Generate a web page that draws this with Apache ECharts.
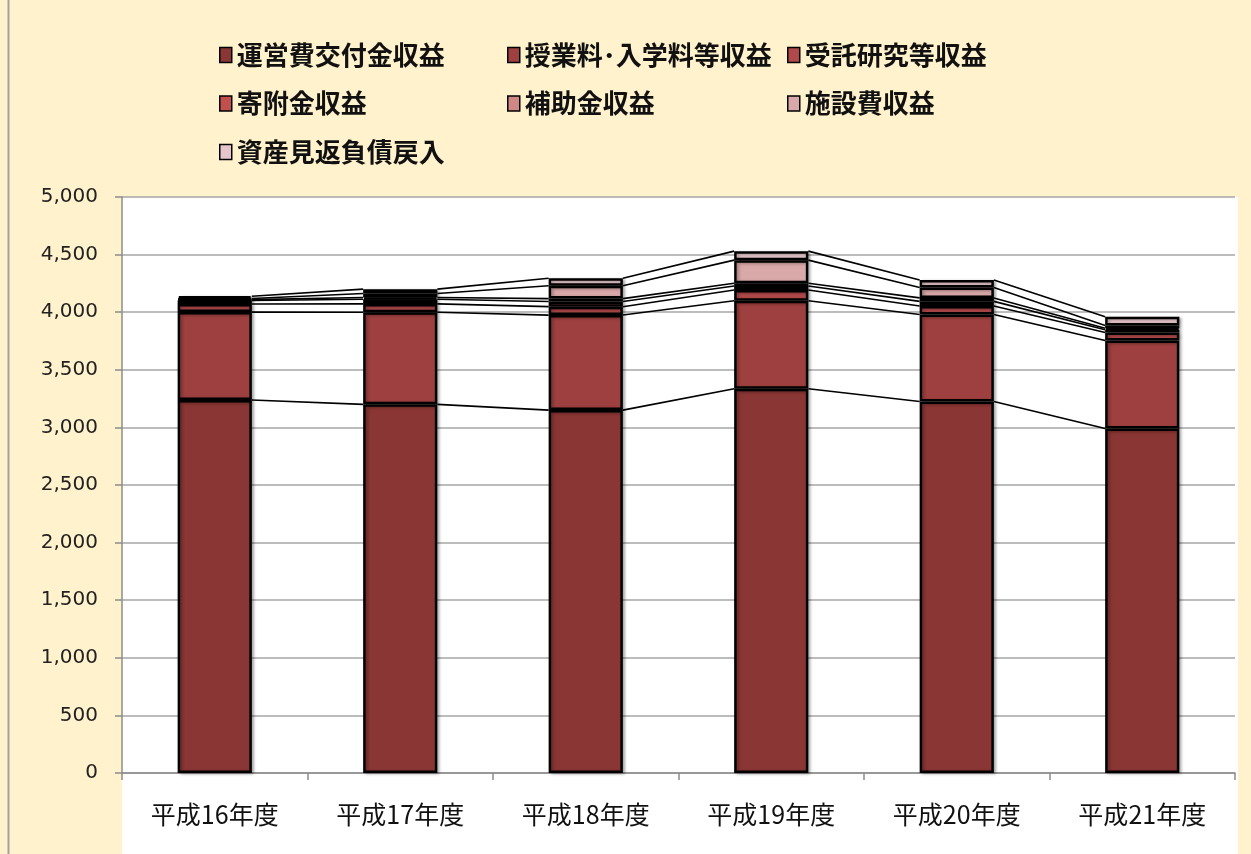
<!DOCTYPE html>
<html>
<head>
<meta charset="utf-8">
<script src="https://cdn.jsdelivr.net/npm/echarts@6/dist/echarts.min.js"></script>
<style>
  html, body { margin: 0; padding: 0; background: #FFF2CC; }
  #chart { width: 1251px; height: 854px; }
</style>
</head>
<body>
<div id="chart"></div>
<script>
// 年度
const categories = ['平成16年度', '平成17年度', '平成18年度', '平成19年度', '平成20年度', '平成21年度'];

// 収益の内訳（百万円）
const seriesNames = ['運営費交付金収益', '授業料･入学料等収益', '受託研究等収益', '寄附金収益', '補助金収益', '施設費収益', '資産見返負債戻入'];
const uneihi   = [3238, 3200, 3150, 3335, 3225, 2990];
const jugyoryo = [763, 800, 825, 765, 755, 764];
const jutaku   = [70, 72, 73, 92, 74, 69];
const kifukin  = [30, 40, 45, 35, 40, 25];
const hojokin  = [8, 15, 25, 25, 30, 12];
const shisetsu = [10, 35, 112, 200, 90, 25];
const shisan   = [20, 38, 65, 78, 66, 75];

const yTicks = { min: 0, max: 5000, interval: 500 };

const colors = ['#8A3634', '#9E403F', '#B0494A', '#C0504D', '#CF8886', '#D9A8A8', '#E6C6CA'];
const values = [uneihi, jugyoryo, jutaku, kifukin, hojokin, shisetsu, shisan];

// 各層の上端（累積値）から系列線のデータを作る
const cumulative = [];
values.reduce((acc, arr) => {
  const next = acc.map((v, i) => v + arr[i]);
  cumulative.push(next);
  return next;
}, categories.map(() => 0));

const seriesLineData = [];
for (let i = 0; i < categories.length - 1; i++) {
  cumulative.forEach(cum => seriesLineData.push([i, cum[i], cum[i + 1]]));
}

const barSeries = seriesNames.map((name, k) => ({
  name,
  type: 'bar',
  stack: 'total',
  barWidth: '40%',
  data: values[k],
  itemStyle: {
    color: colors[k],
    borderColor: '#000',
    borderWidth: 2.5,
    shadowColor: 'rgba(0,0,0,0.30)',
    shadowBlur: 3,
    shadowOffsetX: 2,
    shadowOffsetY: 1
  },
  emphasis: { disabled: true }
}));

const legendText = {
  fontFamily: 'Noto Sans CJK JP',
  fontSize: 26,
  fontWeight: 'bold',
  color: '#111',
  lineHeight: 26,
  textShadowColor: 'rgba(90,70,30,0.35)',
  textShadowOffsetX: 1,
  textShadowOffsetY: 1
};

function legendAt(left, names) {
  return {
    left, top: 37,
    orient: 'vertical',
    data: names,
    icon: 'rect',
    itemWidth: 12,
    itemHeight: 15,
    itemGap: 22.5,
    itemTextGap: 5,
    selectedMode: false,
    itemStyle: { borderColor: '#000', borderWidth: 1.5, shadowBlur: 0, shadowOffsetX: 0, shadowOffsetY: 0 },
    textStyle: legendText
  };
}

const chart = echarts.init(document.getElementById('chart'));
chart.setOption({
  backgroundColor: '#FFF2CC',
  animation: false,
  graphic: [
    { type: 'rect', z: -10, shape: { x: 122, y: 197, width: 1116, height: 660 }, style: { fill: '#FFFFFF' } },
    { type: 'line', z: -5, shape: { x1: 8.5, y1: 0, x2: 8.5, y2: 854 }, style: { stroke: '#A0A0A0', lineWidth: 2 } }
  ],
  legend: [
    legendAt(214, [seriesNames[0], seriesNames[3], seriesNames[6]]),
    legendAt(502, [seriesNames[1], seriesNames[4]]),
    legendAt(782, [seriesNames[2], seriesNames[5]])
  ],
  grid: { left: 122, right: 16, top: 197, bottom: 81 },
  xAxis: {
    type: 'category',
    data: categories,
    axisLine: { lineStyle: { color: '#8C8C8C', width: 1.5 } },
    axisTick: { show: true, length: 7, lineStyle: { color: '#8C8C8C', width: 1.5 } },
    axisLabel: {
      margin: 29,
      fontFamily: 'Noto Sans CJK JP',
      fontSize: 25,
      color: '#111'
    }
  },
  yAxis: {
    type: 'value',
    min: yTicks.min,
    max: yTicks.max,
    interval: yTicks.interval,
    axisLine: { show: true, lineStyle: { color: '#8C8C8C', width: 1.5 } },
    axisTick: { show: true, length: 7, lineStyle: { color: '#8C8C8C', width: 1.5 } },
    splitLine: { lineStyle: { color: '#A6A6A6', width: 1.5 } },
    axisLabel: {
      margin: 24,
      fontFamily: 'DejaVu Sans',
      fontSize: 20,
      color: '#222',
      formatter: v => v.toLocaleString('en-US')
    }
  },
  series: [
    ...barSeries,
    {
      type: 'custom',
      name: '系列線',
      silent: true,
      z: 1,
      encode: { x: 0, y: [1, 2] },
      data: seriesLineData,
      renderItem(params, api) {
        const i = api.value(0);
        const a = api.coord([i, api.value(1)]);
        const b = api.coord([i + 1, api.value(2)]);
        const half = api.size([1, 0])[0] * 0.2;
        return {
          type: 'line',
          shape: { x1: a[0] + half, y1: a[1], x2: b[0] - half, y2: b[1] },
          style: { stroke: '#000', lineWidth: 1.6 }
        };
      }
    }
  ]
});
</script>
</body>
</html>
